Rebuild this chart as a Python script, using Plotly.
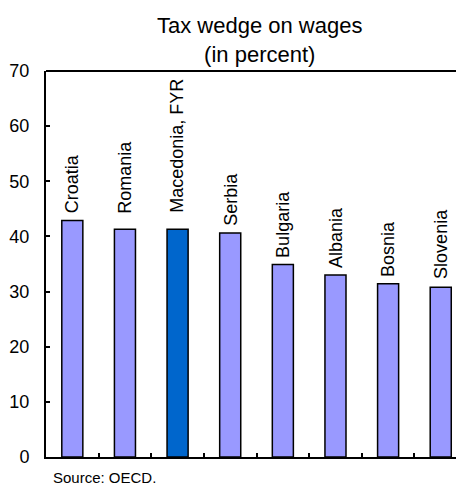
import plotly.graph_objects as go

countries = ["Croatia", "Romania", "Macedonia, FYR", "Serbia", "Bulgaria", "Albania", "Bosnia", "Slovenia"]
values = [42.9, 41.3, 41.3, 40.6, 34.9, 33.0, 31.4, 30.8]
highlight = "Macedonia, FYR"
y_ticks = [0, 10, 20, 30, 40, 50, 60, 70]

# label offsets above bars (pixels), as in the original layout
label_shift = [5, 14, 14, 5, 5, 5, 5, 6]

colors = ["#0066CC" if c == highlight else "#9999FF" for c in countries]
FONT = "Liberation Sans, Arial, sans-serif"

fig = go.Figure()
fig.add_trace(go.Bar(
    x=countries, y=values, marker=dict(color=colors, line=dict(color="black", width=1.5)),
    width=0.4, showlegend=False, hoverinfo="skip"))

for c, v, s in zip(countries, values, label_shift):
    fig.add_annotation(x=c, y=v, text=c, textangle=-90, showarrow=False,
                       xanchor="center", yanchor="bottom", yshift=s,
                       font=dict(family=FONT, size=18, color="black"))

fig.add_shape(type="line", xref="paper", yref="paper", x0=0, x1=1, y0=1, y1=1,
              line=dict(color="black", width=2))

fig.add_annotation(text="Tax wedge on wages<br>(in percent)", xref="paper", yref="paper",
                   x=0.521, y=1, yanchor="bottom", xanchor="center", yshift=2, showarrow=False,
                   font=dict(family=FONT, size=22, color="black"))

fig.update_layout(
    width=456, height=493,
    margin=dict(l=46, r=0, t=71, b=36),
    plot_bgcolor="white", paper_bgcolor="white",
    font=dict(family=FONT, size=18, color="black"),
    bargap=0.6,
    xaxis=dict(range=[-0.5, 7.29], showticklabels=False, ticks="inside", tickson="boundaries",
               ticklen=4, tickcolor="black", tickwidth=1.5, showline=True, linecolor="black",
               linewidth=2, showgrid=False, fixedrange=True),
    yaxis=dict(range=[0, 70], tickvals=y_ticks, ticks="inside", ticklen=4, tickcolor="black",
               tickwidth=1.5, showline=True, linecolor="black", linewidth=2, showgrid=False,
               zeroline=False, ticklabelstandoff=11, tickfont=dict(size=18)),
)

fig.add_annotation(text="Source: OECD.", xref="paper", yref="paper", x=0.012, y=0,
                   yshift=-31, xanchor="left", yanchor="bottom", showarrow=False,
                   font=dict(family=FONT, size=15, color="black"))

fig.write_html("out.html")
